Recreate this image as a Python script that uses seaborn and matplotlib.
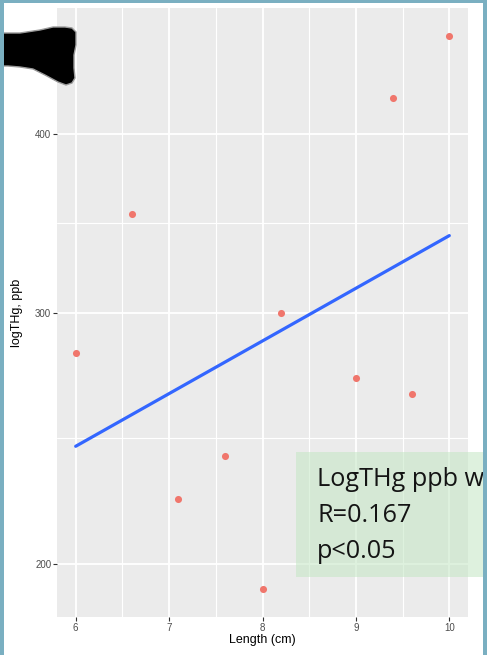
import numpy as np
import pandas as pd
import matplotlib
matplotlib.use("Agg")
import matplotlib.pyplot as plt
import seaborn as sns
from matplotlib.patches import Polygon, Rectangle
from matplotlib.ticker import FixedLocator

# ---- data ----
length_cm = [6.0, 6.6, 7.1, 7.6, 8.0, 8.2, 9.0, 9.4, 9.6, 10.0]
thg_ppb = [281, 352, 222, 238, 192, 300, 270, 424, 263, 469]
x_ticks = [6, 7, 8, 9, 10]
y_ticks = [200, 300, 400]
box_lines = ["LogTHg ppb w", "R=0.167", "p<0.05"]

df = pd.DataFrame({"Length": length_cm, "logTHg": np.log10(thg_ppb)})

sns.set_theme(style="white")
W, H = 487, 655
fig = plt.figure(figsize=(W / 100, H / 100), dpi=100, facecolor="white")
ax = fig.add_axes([57 / W, 38 / H, 411 / W, 609 / H])
ax.set_facecolor("#EBEBEB")

sns.regplot(data=df, x="Length", y="logTHg", ci=None, ax=ax,
            scatter_kws=dict(color="#F0766C", s=26, linewidths=0, alpha=1, zorder=3),
            line_kws=dict(color="#3366FF", lw=2.3, zorder=4))

# ggplot-like expanded limits
xmin, xmax = min(length_cm), max(length_cm)
xp = 0.05 * (xmax - xmin)
ax.set_xlim(xmin - xp, xmax + xp)
ly = df["logTHg"]
yp = 0.05 * (ly.max() - ly.min())
ax.set_ylim(ly.min() - yp, ly.max() + yp)

ax.set_xticks(x_ticks)
ax.set_xticklabels([str(v) for v in x_ticks])
ylog = np.log10(y_ticks)
ax.set_yticks(ylog)
ax.set_yticklabels([str(v) for v in y_ticks])
ax.xaxis.set_minor_locator(FixedLocator([(a + b) / 2 for a, b in zip(x_ticks[:-1], x_ticks[1:])]))
ax.yaxis.set_minor_locator(FixedLocator([(a + b) / 2 for a, b in zip(ylog[:-1], ylog[1:])]))

ax.grid(which="major", color="white", lw=1.3)
ax.grid(which="minor", color="white", lw=0.8)
ax.set_axisbelow(True)
for s in ax.spines.values():
    s.set_visible(False)

ax.tick_params(which="major", direction="out", length=2.6, width=0.8, color="#333333",
               labelsize=7, labelcolor="#4D4D4D", pad=1.5, bottom=True, left=True)
ax.tick_params(which="minor", length=0)
for lab in ax.get_xticklabels() + ax.get_yticklabels():
    lab.set_family("Liberation Sans")

ax.set_xlabel("Length (cm)", fontsize=9, family="Liberation Sans", color="black")
ax.xaxis.set_label_coords(0.5, -0.028)
ax.set_ylabel("logTHg, ppb", fontsize=9, family="Liberation Sans", color="black")
ax.yaxis.set_label_coords(-0.083, 0.5)

# ---- annotation box ----
fig.patches.append(Rectangle((296 / W, 78 / H), 1 - 296 / W, 125 / H,
                             transform=fig.transFigure, facecolor=(195/255, 231/255, 195/255),
                             alpha=0.55, edgecolor="none", zorder=4))
for txt, base in zip(box_lines, [169, 133, 97]):
    fig.text(317 / W, base / H, txt, fontsize=18.2, family="Open Sans",
             color="#141414", va="baseline", ha="left", zorder=5)

# ---- black blot at top left ----
blob_px = [(0, 33), (20, 33), (40, 30), (53, 27), (65, 27), (72, 28), (76, 32), (76, 45),
           (74, 55), (74, 68), (75, 78), (72, 83), (66, 85), (58, 82), (45, 75), (33, 69),
           (20, 67), (8, 66), (0, 66)]
fig.patches.append(Polygon([(x / W, 1 - y / H) for x, y in blob_px], closed=True,
                           transform=fig.transFigure, facecolor="black",
                           edgecolor="#9A9A9A", lw=1.0, zorder=6))

# ---- blue frame ----
frame = "#7AAFC1"
for rect in [(0, 0, 4 / W, 1), (0, 1 - 3 / H, 1, 3 / H), (1 - 4 / W, 0, 4 / W, 1)]:
    fig.patches.append(Rectangle(rect[:2], rect[2], rect[3], transform=fig.transFigure,
                                 facecolor=frame, edgecolor="none", zorder=10))

fig.savefig("out.png", dpi=100, facecolor="white")
